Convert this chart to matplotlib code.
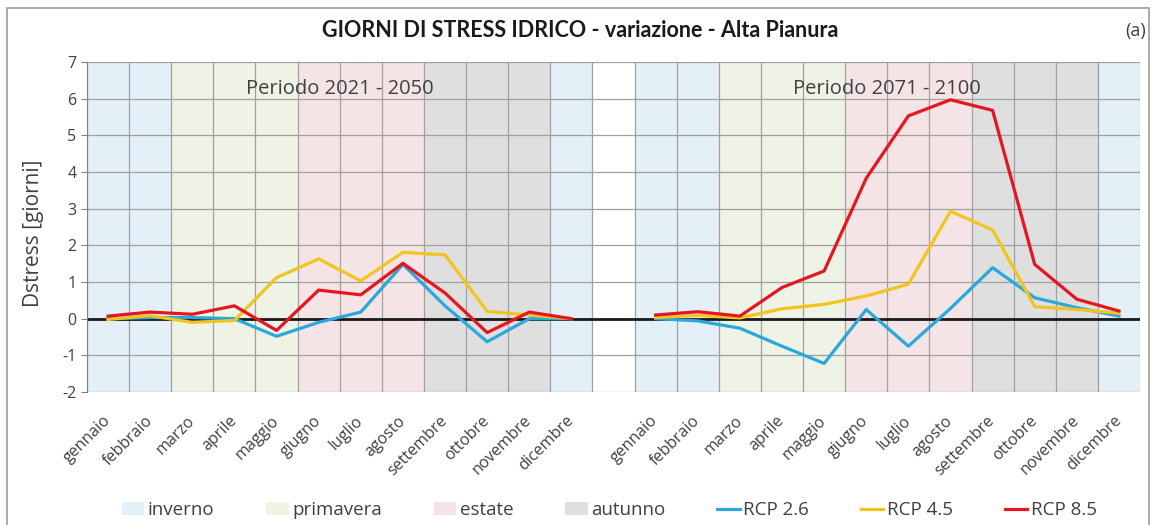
import numpy as np
import matplotlib
matplotlib.use("Agg")
import matplotlib.pyplot as plt
from matplotlib.patches import Patch, Rectangle
from matplotlib.lines import Line2D

plt.rcParams['font.family'] = ['Open Sans', 'DejaVu Sans']
plt.rcParams['axes.unicode_minus'] = False

# --- data -------------------------------------------------------------
mesi = ['gennaio', 'febbraio', 'marzo', 'aprile', 'maggio', 'giugno',
        'luglio', 'agosto', 'settembre', 'ottobre', 'novembre', 'dicembre']
stagione_mese = ['inverno', 'inverno', 'primavera', 'primavera', 'primavera',
                 'estate', 'estate', 'estate', 'autunno', 'autunno', 'autunno',
                 'inverno']
periodi = ['Periodo 2021 - 2050', 'Periodo 2071 - 2100']

# periodo 2021-2050
rcp26_p1 = [0.0, 0.03, 0.03, 0.0, -0.48, -0.1, 0.18, 1.48, 0.35, -0.63, 0.0, 0.0]
rcp45_p1 = [-0.02, 0.08, -0.1, -0.05, 1.12, 1.63, 1.03, 1.81, 1.74, 0.2, 0.1, 0.0]
rcp85_p1 = [0.07, 0.18, 0.12, 0.35, -0.32, 0.78, 0.65, 1.51, 0.7, -0.38, 0.18, 0.0]

# periodo 2071-2100
rcp26_p2 = [0.0, -0.06, -0.26, -0.75, -1.22, 0.25, -0.75, 0.28, 1.39, 0.57, 0.3, 0.07]
rcp45_p2 = [0.03, 0.09, 0.02, 0.27, 0.39, 0.62, 0.94, 2.93, 2.42, 0.33, 0.25, 0.15]
rcp85_p2 = [0.1, 0.19, 0.07, 0.85, 1.3, 3.83, 5.53, 5.97, 5.68, 1.48, 0.53, 0.21]

colori_stagioni = {'inverno': '#E3F0F8', 'primavera': '#EEF3E5',
                   'estate': '#F5E4E6', 'autunno': '#DFDFDF'}
colori_rcp = {'RCP 2.6': '#2AA8DC', 'RCP 4.5': '#F2C41E', 'RCP 8.5': '#E31621'}

serie = {'RCP 2.6': (rcp26_p1, rcp26_p2),
         'RCP 4.5': (rcp45_p1, rcp45_p2),
         'RCP 8.5': (rcp85_p1, rcp85_p2)}

# positions: 12 months, one empty slot, 12 months
x1 = np.arange(12)
x2 = np.arange(13, 25)

fig = plt.figure(figsize=(11.54, 5.25), dpi=100)
ax = fig.add_axes([0.0754, 0.2533, 0.9125, 0.6286])

# season shading
for xs in (x1, x2):
    ax.bar(xs, 9, bottom=-2, width=1.0,
           color=[colori_stagioni[s] for s in stagione_mese], zorder=0)

# grid
ax.set_xlim(-0.5, 24.5)
ax.set_ylim(-2, 7)
ax.set_yticks(range(-2, 8))
ax.set_xticks(np.arange(-0.5, 25, 1.0), minor=True)
ax.grid(which='minor', axis='x', color='#A0A0A0', lw=0.9, zorder=1)
ax.grid(which='major', axis='y', color='#A0A0A0', lw=0.9, zorder=1)
ax.axhline(0, color='#1A1A1A', lw=2, zorder=2)

# series
for nome, (p1, p2) in serie.items():
    ax.plot(x1, p1, color=colori_rcp[nome], lw=2.3, zorder=3)
    ax.plot(x2, p2, color=colori_rcp[nome], lw=2.3, zorder=3)

ax.set_xticks(np.concatenate([x1, x2]))
ax.set_xticklabels(mesi + mesi, rotation=45, ha='right', va='center',
                   rotation_mode='anchor', fontsize=11.5, color='#404040')
ax.tick_params(axis='x', which='both', length=0, pad=19)
ax.tick_params(axis='y', length=4, color='#808080', labelsize=11.5,
               labelcolor='#404040')
for s in ('top', 'right', 'bottom'):
    ax.spines[s].set_visible(False)
ax.spines['left'].set_color('#808080')

ax.set_ylabel('Dstress [giorni]', fontsize=15, color='#404040')
ax.yaxis.set_label_coords(-0.041, 0.48)

ax.text(5.5, 6.27, periodi[0], ha='center', va='center', fontsize=14.5,
        color='#404040')
ax.text(18.5, 6.27, periodi[1], ha='center', va='center', fontsize=14.5,
        color='#404040')

fig.text(0.503, 0.941, 'GIORNI DI STRESS IDRICO - variazione - Alta Pianura',
         ha='center', va='center', fontsize=15.5, fontweight='bold',
         family=['Lato', 'DejaVu Sans'], color='#1A1A1A')
fig.text(0.993, 0.941, '(a)', ha='right', va='center', fontsize=13,
         color='#404040')

# legend
handles = [Patch(facecolor=colori_stagioni[s], edgecolor='none', label=s)
           for s in ['inverno', 'primavera', 'estate', 'autunno']]
handles += [Line2D([], [], color=colori_rcp[n], lw=2.3, label=n)
            for n in colori_rcp]
fig.legend(handles=handles, loc='center', bbox_to_anchor=(0.528, 0.028),
           ncol=7, frameon=False, fontsize=13.5, handlelength=1.2,
           handletextpad=0.2, columnspacing=2.75, labelcolor='#404040')

# chart border
fig.patches.append(Rectangle((0.006, -0.01), 0.99, 0.995, transform=fig.transFigure,
                             fill=False, edgecolor='#9C9C9C', lw=1.2))

fig.savefig('out.png', dpi=100)
